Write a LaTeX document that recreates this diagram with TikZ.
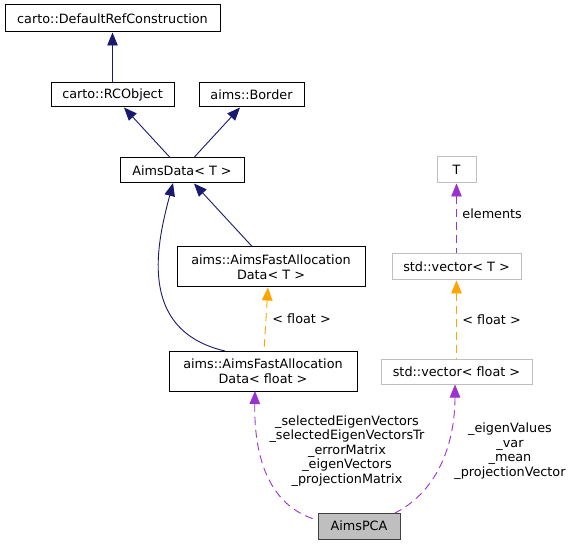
\documentclass[tikz,border=0pt]{standalone}
\usepackage{fontspec}
\setmainfont{DejaVu Sans}
\usetikzlibrary{arrows.meta}
\definecolor{navyedge}{HTML}{191970}
\definecolor{orangeedge}{HTML}{FFA500}
\definecolor{purpleedge}{HTML}{9A32CD}
\definecolor{greyline}{HTML}{BFBFBF}
\definecolor{boxline}{HTML}{404040}
\begin{document}
\begin{tikzpicture}[x=1pt,y=-1pt,
  every node/.style={font=\fontsize{12.8}{14.6}\selectfont, inner sep=0pt, align=center},
  cls/.style={draw=black, line width=1pt, fill=white},
  ext/.style={draw=greyline, line width=1pt, fill=white},
  cur/.style={draw=boxline, line width=1pt, fill=greyline},
  tip/.style={{Triangle[length=13pt,width=10.5pt]}-},
  inh/.style={tip, draw=navyedge, line width=0.9pt},
  tmpl/.style={tip, draw=orangeedge, line width=0.9pt, dash pattern=on 8pt off 5pt},
  use/.style={tip, draw=purpleedge, line width=0.9pt, dash pattern=on 8pt off 5pt},
  lbl/.style={fill=none, draw=none}
]
\useasboundingbox (0,0) rectangle (573,545);
\fill[white] (0,0) rectangle (573,545);

\node[cls, minimum width=215pt, minimum height=27pt] (dref) at (112.5,18.5) {carto::DefaultRefConstruction};
\node[cls, minimum width=123pt, minimum height=24pt] (rco) at (112.5,95) {carto::RCObject};
\node[cls, minimum width=105pt, minimum height=24pt] (border) at (251.5,95) {aims::Border};
\node[cls, minimum width=124pt, minimum height=25pt] (adata) at (182,170.5) {AimsData< T >};
\node[cls, minimum width=188pt, minimum height=40pt] (afat) at (271,267) {aims::AimsFastAllocation\\Data< T >};
\node[cls, minimum width=188pt, minimum height=40pt] (afaf) at (263,371) {aims::AimsFastAllocation\\Data< float >};
\node[ext, minimum width=39pt, minimum height=26pt] (T) at (456.5,170) {T};
\node[ext, minimum width=129pt, minimum height=26pt] (vect) at (456.5,267) {std::vector< T >};
\node[ext, minimum width=151pt, minimum height=25pt] (vecf) at (456.5,371.5) {std::vector< float >};
\node[cur, minimum width=82pt, minimum height=26pt] (pca) at (359,526) {AimsPCA};

\coordinate (afafL) at (225,351);
\coordinate (adataB) at (173,183);
\coordinate (pcaL) at (317,520);
\coordinate (afafB) at (255,391);
\coordinate (pcaR) at (395,513);
\coordinate (vecfB) at (455,384.5);

\draw[inh] (dref) -- (rco);
\draw[inh] (rco) -- (adata);
\draw[inh] (border) -- (adata);
\draw[inh] (adata) -- (afat);
\draw[inh] (adataB) .. controls (158,240) and (135,330) .. (afafL);

\draw[tmpl] (afat.south -| 268,0) -- (afaf.north -| 264,0)
  node[lbl, midway, right=6pt] {< float >};
\draw[tmpl] (vect) -- (vecf) node[lbl, midway, right=5.5pt] {< float >};
\draw[use] (T) -- (vect) node[lbl, midway, right=5.5pt, yshift=4.5pt] {elements};

\draw[use] (afafB) .. controls (254,450) and (265,505) .. (pcaL);
\draw[use] (vecfB) .. controls (455,440) and (440,490) .. (pcaR);

\node[lbl] (lblL) at (347,451) {\_selectedEigenVectors\\\_selectedEigenVectorsTr\\\_errorMatrix\\\_eigenVectors\\\_projectionMatrix};
\node[lbl] (lblR) at (510,451) {\_eigenValues\\\_var\\\_mean\\\_projectionVector};
\end{tikzpicture}
\end{document}
